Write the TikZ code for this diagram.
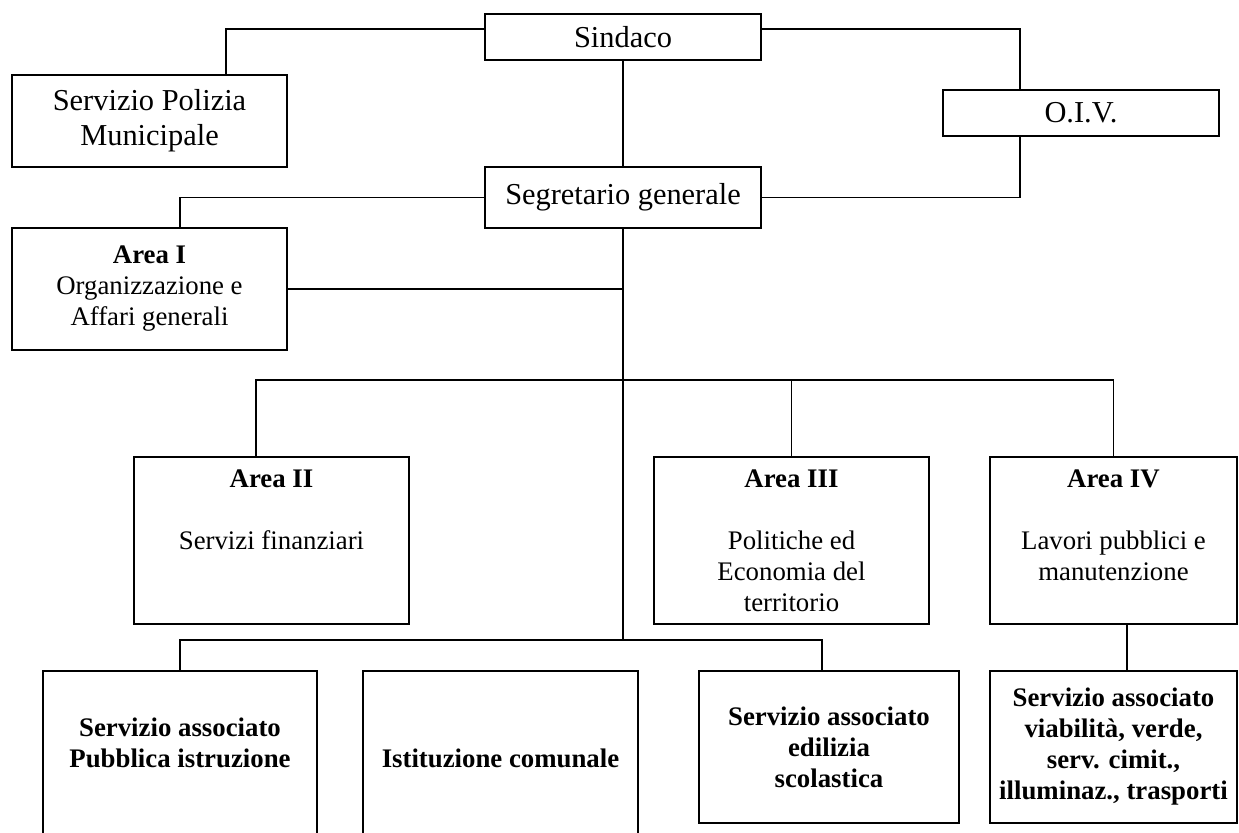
\documentclass[tikz,border=0pt]{standalone}
\usepackage{fontspec}
\setmainfont{Liberation Serif}

\begin{document}
\begin{tikzpicture}[x=0.5pt, y=-0.5pt,
  block/.style={draw, line width=0.6pt, inner sep=0pt, align=center,
    font=\fontsize{13.4}{15.5}\selectfont},
  big/.style={font=\fontsize{15.2}{17.5}\selectfont},
  bold/.style={font=\fontsize{13.4}{15.5}\selectfont\bfseries},
  link/.style={line width=0.6pt}
]
  \useasboundingbox (0,0) rectangle (1239,832);

  % Top level
  \node[block, big, minimum width=138pt, minimum height=23pt] (sind) at (623,37) {Sindaco};
  \node[block, big, minimum width=137.5pt, minimum height=46pt] (pol) at (149.5,121) {Servizio Polizia\\Municipale};
  \node[block, big, minimum width=138pt, minimum height=23pt] (oiv) at (1081,113) {O.I.V.};
  \node[block, big, minimum width=138pt, minimum height=30.5pt] (seg) at (623,197.5) {Segretario generale};
  \node[block, minimum width=137.5pt, minimum height=61pt] (a1) at (149.5,289) {\textbf{Area I}\\Organizzazione e\\Affari generali};

  % Areas
  \node[block, minimum width=137.5pt, minimum height=83.5pt] (a2) at (271.5,540.5) {\textbf{Area II}\\ \\Servizi finanziari\\ \\ \mbox{}};
  \node[block, minimum width=137.5pt, minimum height=83.5pt] (a3) at (791.5,540.5) {\textbf{Area III}\\ \\Politiche ed\\Economia del\\territorio};
  \node[block, minimum width=123.5pt, minimum height=83.5pt] (a4) at (1113.5,540.5) {\textbf{Area IV}\\ \\Lavori pubblici e\\manutenzione\\ \mbox{}};

  % Services
  \node[block, bold, minimum width=137pt, minimum height=87pt] (pi) at (180,758) {Servizio associato\\Pubblica istruzione\\ \mbox{}};
  \node[block, bold, minimum width=137.5pt, minimum height=87pt] (ist) at (500.5,758) {Istituzione comunale};
  \node[block, bold, minimum width=130pt, minimum height=76pt] (ed) at (829,747) {Servizio associato\\edilizia\\scolastica};
  \node[block, bold, minimum width=123.5pt, minimum height=76pt] (via) at (1113.5,747) {Servizio associato\\viabilità, verde,\\serv. cimit.,\\illuminaz., trasporti};

  % Junctions on the trunk
  \coordinate (j1) at (623,380);
  \coordinate (j2) at (623,640);

  % Connectors
  \draw[link] ([yshift=4pt]sind.west) -| ([xshift=38.25pt]pol.north);
  \draw[link] ([yshift=4pt]sind.east) -| ([xshift=-30.5pt]oiv.north);
  \draw[link] ([xshift=-30.5pt]oiv.south) |- (seg.east);
  \draw[link] (sind) -- (seg);
  \draw[link] (seg.west) -| ([xshift=15.25pt]a1.north);
  \draw[link] (seg.south) -- (j2);
  \draw[link] (a1.east) -- (a1.east -| j1);
  \draw[link] ([xshift=-7.75pt]a2.north) |- (j1) -| (a4.north);
  \draw[link] (a3.north) -- (a3.north |- j1);
  \draw[link] (pi.north) |- (j2) -| ([xshift=-3.5pt]ed.north);
  \draw[link] ([xshift=6.75pt]a4.south) -- ([xshift=6.75pt]via.north);
\end{tikzpicture}
\end{document}
